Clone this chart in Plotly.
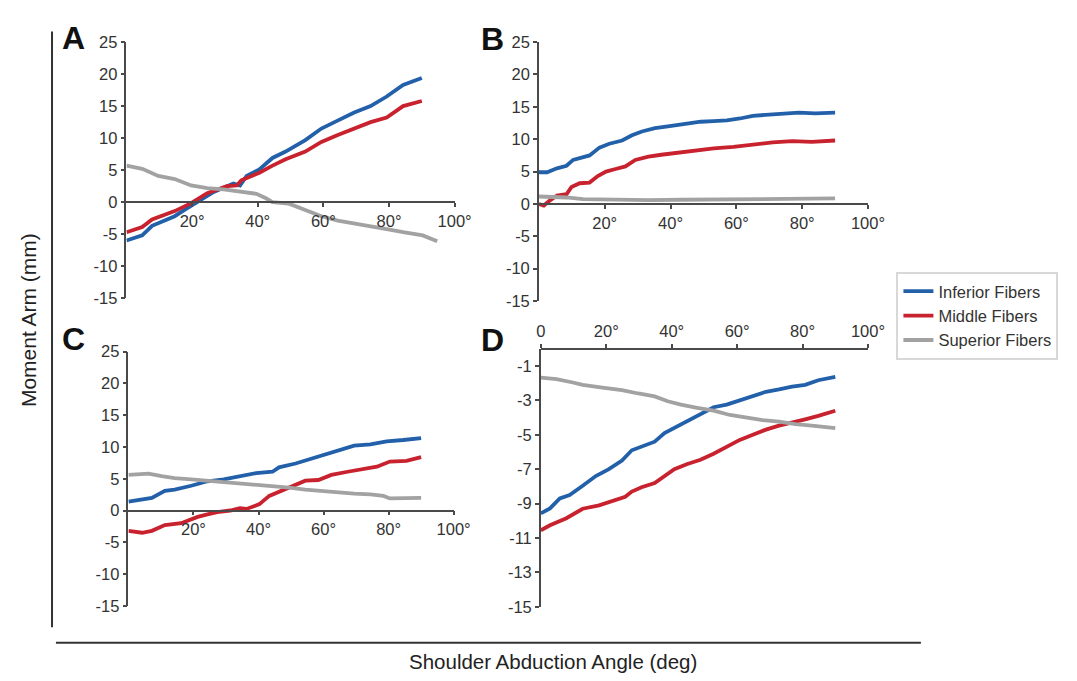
import plotly.graph_objects as go

W, H = 1077, 681

# ---------------- data ----------------
# Panel A
a_inf_x = [0, 4.8, 7.8, 14.7, 17.7, 22.7, 26.6, 32.6, 34.6, 36.6, 40.5, 44.5, 48.5, 54.5, 59.4, 63.4, 69.4, 74.4, 79.3, 84.3, 90]
a_inf_y = [-6.0, -5.2, -3.7, -2.2, -1.2, 0.35, 1.6, 2.9, 2.6, 4.1, 5.1, 6.9, 7.9, 9.7, 11.5, 12.5, 14.0, 15.0, 16.5, 18.3, 19.4]
a_mid_x = [0, 4.8, 7.8, 14.7, 19.7, 24.6, 30.6, 33.6, 35.0, 40.5, 44.5, 48.5, 54.5, 59.4, 64.4, 69.4, 74.4, 79.3, 84.3, 90]
a_mid_y = [-4.7, -3.9, -2.7, -1.4, -0.15, 1.4, 2.5, 2.6, 3.4, 4.6, 5.7, 6.7, 7.9, 9.4, 10.5, 11.5, 12.5, 13.2, 15.0, 15.8]
a_sup_x = [0, 4.8, 9.7, 14.7, 19.7, 24.6, 29.6, 34.6, 39.6, 42.5, 44.5, 49.5, 54.5, 59.4, 64.4, 69.4, 74.4, 79.3, 84.3, 90.3, 94.7]
a_sup_y = [5.7, 5.2, 4.1, 3.6, 2.6, 2.2, 2.0, 1.7, 1.3, 0.6, 0.0, -0.25, -1.2, -2.2, -2.9, -3.3, -3.7, -4.2, -4.7, -5.2, -6.1]

# Panel B
b_inf_x = [0, 2.5, 5.5, 8.4, 10.4, 13.4, 15.4, 18.4, 21.4, 25.3, 28.3, 31.3, 35.3, 39.2, 45.2, 49.2, 53.1, 57.1, 61.1, 65, 70, 75, 79, 84, 90]
b_inf_y = [4.9, 4.9, 5.5, 5.9, 6.8, 7.3, 7.5, 8.7, 9.3, 9.8, 10.6, 11.2, 11.7, 12.0, 12.5, 12.7, 12.8, 12.9, 13.2, 13.6, 13.8, 14.0, 14.1, 14.0, 14.1]
b_mid_x = [0, 1.5, 3.5, 5.5, 8.4, 9.9, 12.4, 15.4, 17.9, 20.4, 23.3, 26.3, 29.3, 33.3, 37.2, 43.2, 48.2, 53.1, 59.1, 65, 71, 77, 82.9, 90]
b_mid_y = [0.0, -0.25, 0.6, 1.3, 1.5, 2.6, 3.2, 3.3, 4.3, 5.0, 5.4, 5.8, 6.8, 7.3, 7.6, 8.0, 8.2, 8.6, 8.8, 9.2, 9.5, 9.7, 9.6, 9.8]
b_sup_x = [0, 3.5, 8.4, 13.4, 23.3, 33.3, 43.2, 63.1, 90]
b_sup_y = [1.15, 1.1, 1.0, 0.75, 0.65, 0.6, 0.65, 0.75, 0.85]

# Panel C
c_inf_x = [0, 4.2, 7.2, 11.2, 14.2, 19.3, 24.3, 29.3, 34.3, 39.3, 44.3, 46.3, 51.4, 56.4, 60.4, 64.4, 69.4, 74.4, 79.4, 84.5, 90]
c_inf_y = [1.4, 1.7, 2.0, 3.1, 3.3, 3.9, 4.6, 4.9, 5.4, 5.9, 6.1, 6.8, 7.4, 8.2, 8.9, 9.4, 10.2, 10.4, 10.9, 11.1, 11.4]
c_mid_x = [0, 4.2, 7.2, 11.2, 16.2, 21.3, 24.3, 27.3, 31.3, 34.3, 36.3, 40.3, 43.3, 47.3, 50.4, 54.4, 58.4, 62.4, 67.4, 72.4, 76.4, 80.4, 85.5, 90]
c_mid_y = [-3.2, -3.5, -3.2, -2.3, -2.0, -1.0, -0.6, -0.25, 0.0, 0.35, 0.25, 1.0, 2.3, 3.2, 3.8, 4.7, 4.8, 5.6, 6.1, 6.6, 6.9, 7.7, 7.8, 8.4]
c_sup_x = [0, 6.2, 10.2, 14.2, 19.3, 24.3, 29.3, 34.3, 39.3, 44.3, 49.4, 54.4, 59.4, 64.4, 69.4, 74.4, 78.4, 80.4, 84.5, 90]
c_sup_y = [5.6, 5.8, 5.4, 5.1, 4.9, 4.7, 4.5, 4.3, 4.1, 3.8, 3.6, 3.3, 3.1, 2.8, 2.65, 2.55, 2.3, 1.9, 1.9, 2.0]

# Panel D
d_inf_x = [0, 2.8, 5.8, 8.8, 12.8, 16.8, 20.8, 24.8, 27.8, 30.8, 34.8, 37.8, 40.8, 44.8, 48.8, 52.8, 56.8, 60.8, 64.8, 68.8, 72.8, 76.8, 80.8, 84.8, 90]
d_inf_y = [-9.57, -9.28, -8.7, -8.5, -7.96, -7.4, -7.0, -6.5, -5.9, -5.7, -5.4, -4.9, -4.6, -4.2, -3.8, -3.4, -3.25, -3.0, -2.7, -2.5, -2.36, -2.2, -2.1, -1.83, -1.64]
d_mid_x = [0, 2.8, 7.8, 12.8, 17.8, 22.8, 25.8, 27.8, 30.8, 34.8, 37.8, 40.8, 44.8, 48.8, 52.8, 56.8, 60.8, 64.8, 68.8, 72.8, 76.8, 80.8, 84.8, 90]
d_mid_y = [-10.55, -10.26, -9.85, -9.3, -9.1, -8.8, -8.6, -8.3, -8.05, -7.8, -7.4, -7.0, -6.7, -6.45, -6.1, -5.7, -5.3, -5.0, -4.7, -4.47, -4.3, -4.1, -3.9, -3.6]
d_sup_x = [0, 4.8, 9.8, 12.8, 18.8, 24.8, 29.8, 34.8, 38.8, 42.8, 47.8, 52.8, 57.8, 62.8, 67.8, 72.8, 77.8, 82.8, 90]
d_sup_y = [-1.68, -1.77, -1.96, -2.1, -2.26, -2.4, -2.6, -2.77, -3.05, -3.25, -3.43, -3.6, -3.85, -4.0, -4.15, -4.23, -4.38, -4.47, -4.62]

series_names = ["Inferior Fibers", "Middle Fibers", "Superior Fibers"]
panel_labels = ["A", "B", "C", "D"]

x_ticks_abc = [20, 40, 60, 80, 100]
x_ticktext_abc = ["20°", "40°", "60°", "80°", "100°"]
x_ticks_d = [0, 20, 40, 60, 80, 100]
x_ticktext_d = ["0", "20°", "40°", "60°", "80°", "100°"]
y_ticks_abc = [-15, -10, -5, 0, 5, 10, 15, 20, 25]
y_ticktext_abc = ["-15", "-10", "-5", "0", "5", "10", "15", "20", "25"]
y_ticks_d = [-15, -13, -11, -9, -7, -5, -3, -1]
y_ticktext_d = ["-15", "-13", "-11", "-9", "-7", "-5", "-3", "-1"]

# ---------------- styling ----------------
COLORS = ["#2360aa", "#c8222e", "#a2a2a2"]
FONT = "Liberation Sans, Arial, sans-serif"
AXIS_COLOR = "#4a4a4a"
TICK_FONT = dict(family=FONT, size=16.5, color="#333333")

panels = [
    dict(data=[(a_inf_x, a_inf_y), (a_mid_x, a_mid_y), (a_sup_x, a_sup_y)],
         px=(124, 459), py=(34, 297), yr=(-15, 25)),
    dict(data=[(b_inf_x, b_inf_y), (b_mid_x, b_mid_y), (b_sup_x, b_sup_y)],
         px=(545, 881), py=(34, 300), yr=(-15, 25)),
    dict(data=[(c_inf_x, c_inf_y), (c_mid_x, c_mid_y), (c_sup_x, c_sup_y)],
         px=(126, 458), py=(352, 613), yr=(-15, 25)),
    dict(data=[(d_inf_x, d_inf_y), (d_mid_x, d_mid_y), (d_sup_x, d_sup_y)],
         px=(547, 881), py=(349, 614), yr=(-15, 0)),
]

fig = go.Figure()
layout = {}
for i, p in enumerate(panels):
    n = i + 1
    xa = "x" if n == 1 else f"x{n}"
    ya = "y" if n == 1 else f"y{n}"
    for j, (xs, ys) in enumerate(p["data"]):
        fig.add_trace(go.Scatter(
            x=xs, y=ys, mode="lines", name=series_names[j],
            line=dict(color=COLORS[j], width=3.8),
            xaxis=xa, yaxis=ya, legendgroup=series_names[j],
            showlegend=(i == 0), hoverinfo="skip"))
    xd = [p["px"][0] / W, p["px"][1] / W]
    yd = [1 - p["py"][1] / H, 1 - p["py"][0] / H]
    y0, y1 = p["yr"]
    zero_pos = yd[0] + (0 - y0) / (y1 - y0) * (yd[1] - yd[0])
    is_d = (n == 4)
    layout["xaxis" if n == 1 else f"xaxis{n}"] = dict(
        domain=xd, range=[0, 100], anchor="free", position=zero_pos,
        side="top" if is_d else "bottom",
        showline=True, linecolor=AXIS_COLOR, linewidth=1.5,
        ticks="outside", ticklen=4, tickwidth=1.5, tickcolor=AXIS_COLOR,
        tickvals=x_ticks_d if is_d else x_ticks_abc,
        ticktext=x_ticktext_d if is_d else x_ticktext_abc,
        tickfont=TICK_FONT, showgrid=False, zeroline=False, fixedrange=True)
    layout["yaxis" if n == 1 else f"yaxis{n}"] = dict(
        domain=yd, range=[y0, y1], anchor=xa,
        showline=True, linecolor=AXIS_COLOR, linewidth=1.5,
        ticks="outside", ticklen=4, tickwidth=1.5, tickcolor=AXIS_COLOR,
        tickvals=y_ticks_d if is_d else y_ticks_abc,
        ticktext=y_ticktext_d if is_d else y_ticktext_abc,
        tickfont=TICK_FONT, showgrid=False, zeroline=False, fixedrange=True)

fig.update_layout(**layout)

# panel letters
letter_pos = [(70, 30), (498, 31), (70, 339), (498, 340)]
annotations = []
for lab, (lx, ly) in zip(panel_labels, letter_pos):
    annotations.append(dict(
        text=f"<b>{lab}</b>", x=lx / W, y=1 - ly / H, xref="paper", yref="paper",
        xanchor="center", yanchor="middle", showarrow=False,
        font=dict(family=FONT, size=32, color="#111111")))
# axis titles
annotations.append(dict(
    text="Moment Arm (mm)", x=24 / W, y=1 - 320 / H, xref="paper", yref="paper",
    xanchor="center", yanchor="middle", textangle=-90, showarrow=False,
    font=dict(family=FONT, size=21, color="#222222")))
annotations.append(dict(
    text="Shoulder Abduction Angle (deg)", x=559 / W, y=1 - 670 / H,
    xref="paper", yref="paper", xanchor="center", yanchor="middle",
    showarrow=False, font=dict(family=FONT, size=20.5, color="#222222")))

shapes = [
    dict(type="line", xref="paper", yref="paper",
         x0=48 / W, x1=48 / W, y0=1 - 23 / H, y1=1 - 635 / H,
         line=dict(color="#333333", width=2)),
    dict(type="line", xref="paper", yref="paper",
         x0=52 / W, x1=935 / W, y0=1 - 651 / H, y1=1 - 651 / H,
         line=dict(color="#333333", width=2)),
]

fig.update_layout(
    width=W, height=H, autosize=False,
    margin=dict(l=0, r=0, t=0, b=0),
    paper_bgcolor="white", plot_bgcolor="white",
    annotations=annotations, shapes=shapes,
    legend=dict(x=910 / W, y=1 - 270 / H, xanchor="left", yanchor="top",
                bordercolor="#d8d8d8", borderwidth=2, bgcolor="white",
                font=dict(family=FONT, size=16.5, color="#333333"),
                itemwidth=30, tracegroupgap=0),
    showlegend=True,
)

fig.write_html(
    "out.html",
    config={"displayModeBar": False},
    post_script="document.body.style.margin='0';document.body.style.padding='0';document.body.style.overflow='hidden';",
)
